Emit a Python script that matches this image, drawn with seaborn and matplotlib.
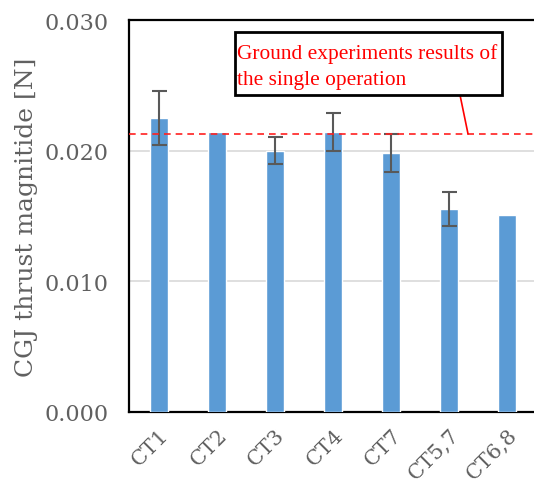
import numpy as np
import pandas as pd
import matplotlib
matplotlib.use("Agg")
import matplotlib.pyplot as plt
from matplotlib.patches import Rectangle
import seaborn as sns

# Thrust magnitude per test case, with the spread of repeated runs
categories = ["CT1", "CT2", "CT3", "CT4", "CT7", "CT5,7", "CT6,8"]
thrust = [0.0225, 0.0214, 0.0200, 0.0214, 0.0198, 0.0155, 0.0151]
thrust_err = [0.0021, np.nan, 0.00105, 0.00145, 0.00147, 0.0013, np.nan]
ground_reference = 0.02128

y_ticks = [0.000, 0.010, 0.020, 0.030]
y_tick_labels = ["0.000", "0.010", "0.020", "0.030"]

callout_lines = ["Ground experiments results of", "the single operation"]

df = pd.DataFrame({"case": categories, "thrust": thrust, "err": thrust_err})

sns.set_style("white")
plt.rcParams["font.family"] = ["DejaVu Serif"]

W, H = 534, 489
AX_L, AX_B, AX_T = 129, 413, 21
fig = plt.figure(figsize=(W / 100, H / 100), dpi=100)
ax = fig.add_axes([AX_L / W, (H - AX_B) / H, 1 - AX_L / W, (AX_B - AX_T) / H])
ax_w, ax_h = W - AX_L, AX_B - AX_T

sns.barplot(data=df, x="case", y="thrust", color="#5B9BD5", saturation=1,
            width=0.316, errorbar=None, ax=ax, zorder=3)

x = np.arange(len(categories))
mask = ~df["err"].isna()
ax.errorbar(x[mask], df["thrust"][mask], yerr=df["err"][mask], fmt="none",
            ecolor="#595959", elinewidth=1.5, capsize=5.4, capthick=1.5, zorder=4)

ax.axhline(ground_reference, color="#FF2020", lw=1.2, ls=(0, (4, 3)), zorder=5)

ax.set_ylim(0, 0.030)
ax.set_xlim(-0.522, 6.46)
ax.set_yticks(y_ticks)
ax.set_yticklabels(y_tick_labels)
ax.yaxis.grid(True, color="#D9D9D9", lw=1.2, zorder=0)
ax.set_axisbelow(True)

for side in ["left", "bottom", "top"]:
    ax.spines[side].set_visible(True)
    ax.spines[side].set_color("black")
    ax.spines[side].set_linewidth(1.6)
ax.spines["right"].set_visible(False)

ax.tick_params(axis="y", length=0, pad=15, labelsize=16, labelcolor="#606060")
ax.tick_params(axis="x", length=0, pad=9, labelsize=15, labelcolor="#606060")
plt.setp(ax.get_xticklabels(), rotation=45, ha="right", rotation_mode="anchor")

ax.set_xlabel("")
ax.set_ylabel("CGJ thrust magnitide [N]", fontsize=18, color="#606060", labelpad=4)

# Callout box pointing at the reference line
box_l, box_r, box_t, box_b = 235, 502, 33, 96
ax.add_patch(Rectangle(((box_l - AX_L) / ax_w, (AX_B - box_b) / ax_h),
                       (box_r - box_l) / ax_w, (box_b - box_t) / ax_h,
                       transform=ax.transAxes, fc="white", ec="black", lw=2,
                       zorder=6, clip_on=False))
for line, baseline in zip(callout_lines, [59, 85]):
    ax.text((237 - AX_L) / ax_w, (AX_B - baseline) / ax_h, line,
            transform=ax.transAxes, fontsize=15.4, color="#FF0000",
            family=["Liberation Serif"], ha="left", va="baseline", zorder=7)
ax.annotate("", xy=((468 - AX_L) / 58 - 0.522, ground_reference), xycoords="data",
            xytext=((460 - AX_L) / ax_w, (AX_B - box_b) / ax_h),
            textcoords="axes fraction",
            arrowprops=dict(arrowstyle="-", color="#FF0000", lw=1.2,
                            shrinkA=0, shrinkB=0),
            zorder=5)

fig.savefig("out.png", dpi=100)
